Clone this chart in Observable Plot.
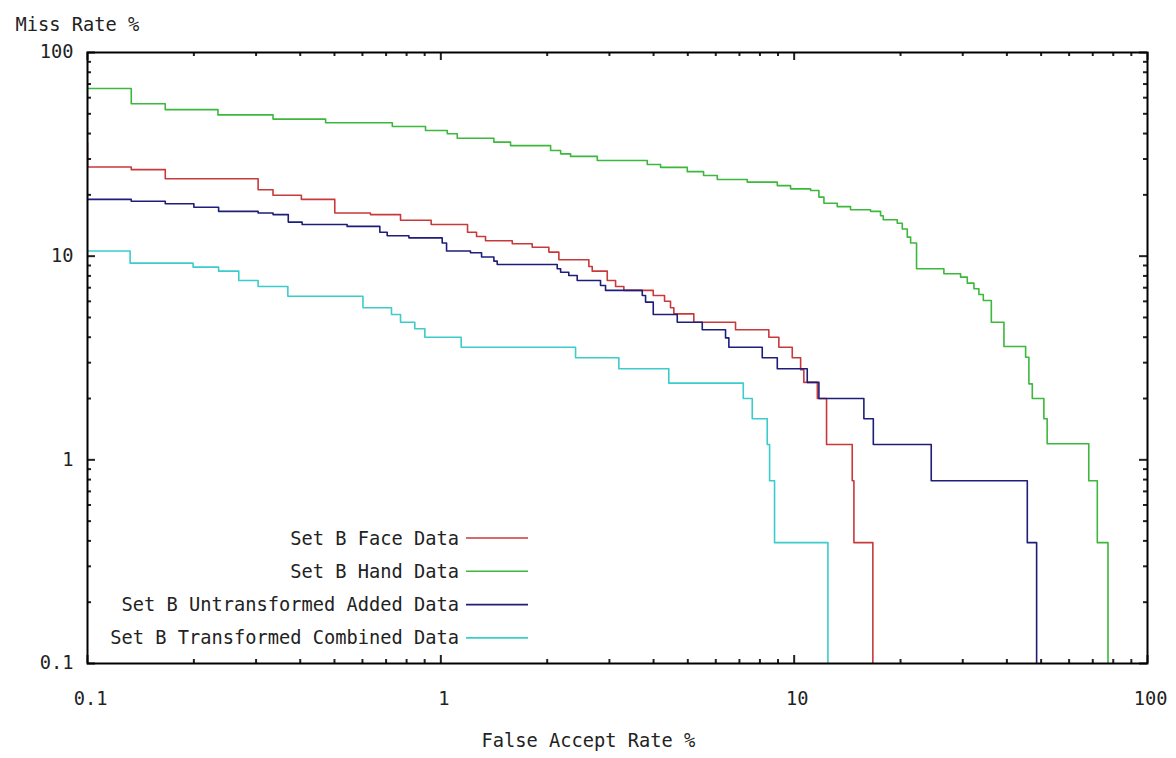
<!DOCTYPE html>
<html><head><meta charset="utf-8">
<script src="https://cdn.jsdelivr.net/npm/d3@7"></script>
<script src="https://cdn.jsdelivr.net/npm/@observablehq/plot@0.6"></script>
<style>
html,body{margin:0;padding:0;background:#fff;}
</style>
</head><body><div id="chart"></div>
<script>
const seriesNames = ["Set B Face Data", "Set B Hand Data", "Set B Untransformed Added Data", "Set B Transformed Combined Data"];
const seriesColors = ["#c83a3a", "#3cb83c", "#1e1e7a", "#3ccccc"];

// False Accept Rate % (x) and Miss Rate % (y), step points (level starts at x)
const faceFAR  = [0.1, 0.1, 0.133, 0.166, 0.304, 0.335, 0.403, 0.501, 0.632, 0.769, 0.939, 1.19, 1.262, 1.338, 1.593, 1.814, 2.022, 2.158, 2.624, 2.682, 2.958, 3.123, 3.296, 3.992, 4.297, 4.467, 4.566, 5.20, 6.824, 8.479, 9.05, 9.876, 10.43, 10.65, 11.63, 12.35, 14.6, 14.76, 16.7];
const faceMiss = [36, 27.4, 26.6, 24.0, 21.2, 19.9, 19.0, 16.3, 16.0, 15.0, 14.3, 13.1, 12.5, 11.9, 11.5, 11.07, 10.47, 9.60, 8.89, 8.44, 7.60, 7.10, 6.79, 6.41, 6.01, 5.58, 5.21, 4.74, 4.35, 4.00, 3.57, 3.17, 2.77, 2.40, 2.00, 1.19, 0.79, 0.392, 0.1];

const handFAR  = [0.1, 0.133, 0.166, 0.234, 0.335, 0.472, 0.729, 0.905, 1.043, 1.113, 1.413, 1.575, 2.045, 2.183, 2.329, 2.772, 3.839, 4.187, 4.983, 5.541, 6.058, 7.366, 8.958, 9.768, 11.13, 11.75, 12.14, 13.24, 14.44, 16.45, 17.56, 17.87, 19.58, 20.23, 20.9, 21.36, 22.2, 26.53, 29.58, 30.9, 32.27, 33.33, 34.3, 36.14, 39.24, 45.19, 46.17, 47.2, 50.9, 52.0, 68.2, 72.1, 77.3];
const handMiss = [66.6, 56.0, 52.4, 49.4, 47.1, 45.2, 43.3, 41.4, 39.9, 37.9, 36.3, 34.9, 33.0, 31.8, 30.9, 29.5, 28.2, 27.3, 26.0, 24.9, 23.8, 23.1, 22.2, 21.4, 21.0, 19.5, 18.2, 17.5, 16.9, 16.6, 15.8, 15.1, 14.5, 13.6, 12.4, 11.6, 8.67, 8.20, 7.89, 7.37, 6.92, 6.48, 6.06, 4.74, 3.60, 3.19, 2.36, 2.00, 1.59, 1.20, 0.79, 0.392, 0.1];

const untransFAR  = [0.1, 0.133, 0.166, 0.200, 0.235, 0.304, 0.335, 0.370, 0.405, 0.543, 0.672, 0.705, 0.812, 1.009, 1.038, 1.213, 1.304, 1.413, 1.444, 2.135, 2.183, 2.302, 2.432, 2.831, 2.925, 3.716, 3.797, 3.992, 4.668, 5.494, 6.394, 6.534, 8.122, 8.958, 10.89, 11.75, 15.75, 16.75, 24.43, 45.69, 48.55];
const untransMiss = [19.0, 18.6, 18.1, 17.4, 16.6, 16.3, 16.0, 14.7, 14.3, 14.0, 13.1, 12.6, 12.3, 11.6, 10.6, 10.4, 9.9, 9.45, 9.10, 8.67, 8.34, 8.04, 7.60, 7.18, 6.79, 6.41, 5.95, 5.17, 4.74, 4.35, 3.97, 3.57, 3.17, 2.80, 2.40, 2.00, 1.59, 1.19, 0.79, 0.392, 0.1];

const transFAR  = [0.1, 0.132, 0.199, 0.235, 0.268, 0.304, 0.369, 0.602, 0.725, 0.769, 0.844, 0.901, 1.142, 2.406, 3.19, 4.418, 7.178, 7.61, 8.39, 8.52, 8.80, 12.46];
const transMiss = [10.6, 9.24, 8.83, 8.44, 7.60, 7.10, 6.36, 5.58, 5.17, 4.74, 4.40, 4.00, 3.57, 3.17, 2.80, 2.38, 2.00, 1.59, 1.19, 0.79, 0.392, 0.1];

const xMajor = [0.1, 1, 10, 100];
const xLabels = ["0.1", "1", "10", "100"];
const xMinor = [0.2, 0.3, 0.4, 0.5, 0.6, 0.7, 0.8, 0.9, 2, 3, 4, 5, 6, 7, 8, 9, 20, 30, 40, 50, 60, 70, 80, 90];
const yMajor = [0.1, 1, 10, 100];
const yLabels = ["0.1", "1", "10", "100"];
const yMinor = xMinor;
const xTitle = "False Accept Rate %";
const yTitle = "Miss Rate %";

const seriesX = [faceFAR, handFAR, untransFAR, transFAR];
const seriesY = [faceMiss, handMiss, untransMiss, transMiss];
const table = [];
seriesNames.forEach((name, s) => {
  seriesX[s].forEach((x, i) => table.push({series: name, far: x, miss: seriesY[s][i]}));
});

const W = 1176, H = 758, mL = 87, mR = 29, mT = 52, mB = 95;
const fw = W - mL - mR, fh = H - mT - mB;
const FONT = "DejaVu Sans Mono";
const FS = "18.7px";

const chart = Plot.plot({
  width: W, height: H,
  marginLeft: mL, marginRight: mR, marginTop: mT, marginBottom: mB,
  style: {fontFamily: FONT, fontSize: FS, background: "#fff", color: "#222"},
  x: {type: "log", domain: [0.1, 100]},
  y: {type: "log", domain: [0.1, 100]},
  color: {domain: seriesNames, range: seriesColors},
  marks: [
    Plot.line(table, {x: "far", y: "miss", z: "series", stroke: "series", curve: "step-after", strokeWidth: 1.6, clip: true}),
    Plot.tickX(xMajor, {x: d => d, insetTop: fh - 8, strokeWidth: 2}),
    Plot.tickX(xMajor, {x: d => d, insetBottom: fh - 8, strokeWidth: 2}),
    Plot.tickX(xMinor, {x: d => d, insetTop: fh - 4, strokeWidth: 2}),
    Plot.tickX(xMinor, {x: d => d, insetBottom: fh - 4, strokeWidth: 2}),
    Plot.tickY(yMajor, {y: d => d, insetRight: fw - 8, strokeWidth: 2}),
    Plot.tickY(yMajor, {y: d => d, insetLeft: fw - 8, strokeWidth: 2}),
    Plot.tickY(yMinor, {y: d => d, insetRight: fw - 4, strokeWidth: 2}),
    Plot.tickY(yMinor, {y: d => d, insetLeft: fw - 4, strokeWidth: 2}),
    Plot.frame({stroke: "#000", strokeWidth: 2}),
    Plot.axisX({ticks: xMajor, tickFormat: d => xLabels[xMajor.indexOf(d)], tickSize: 0, tickPadding: 28, dx: 3, label: null, fill: "#222"}),
    Plot.axisY({ticks: yMajor, tickFormat: d => yLabels[yMajor.indexOf(d)], tickSize: 0, tickPadding: 14, label: null, fill: "#222"}),
    Plot.text([yTitle], {text: d => d, frameAnchor: "top-left", dx: -72, dy: -35, textAnchor: "start", fill: "#222"}),
    Plot.text([xTitle], {text: d => d, frameAnchor: "bottom", dx: -29, dy: 83, fill: "#222"})
  ]
});
document.getElementById("chart").appendChild(chart);

// legend inside the plot frame (bottom-left)
const svg = d3.select(chart);
const lg = svg.append("g").attr("font-family", FONT).attr("font-size", FS);
const legTextRight = mL + 372, legLineX1 = mL + 379, legLineX2 = mL + 441;
const legTop = mT + 486, legStep = 33.3;
seriesNames.forEach((name, i) => {
  const cy = legTop + i * legStep;
  lg.append("text").attr("x", legTextRight).attr("y", cy).attr("text-anchor", "end")
    .attr("dy", "0.35em").attr("fill", "#222").text(name);
  lg.append("line").attr("x1", legLineX1).attr("x2", legLineX2).attr("y1", cy).attr("y2", cy)
    .attr("stroke", seriesColors[i]).attr("stroke-width", 1.6);
});
</script>
</body></html>
